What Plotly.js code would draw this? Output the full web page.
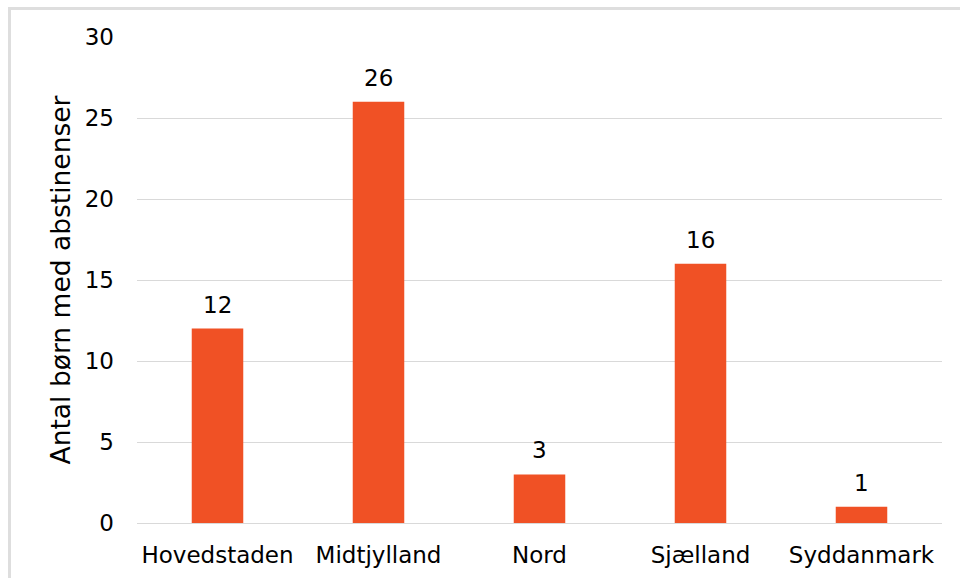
<!DOCTYPE html>
<html>
<head>
<meta charset="utf-8">
<script src="https://cdn.plot.ly/plotly-3.0.1.min.js"></script>
<style>
html,body{margin:0;padding:0;overflow:hidden;background:#fff;}
#frame{position:absolute;left:8px;top:7px;width:1000px;height:700px;border:3px solid #dedede;box-sizing:border-box;pointer-events:none;}
#chart{position:absolute;left:0;top:0;width:960px;height:578px;}
</style>
</head>
<body>
<div id="chart"></div>
<div id="frame"></div>
<script>
const categories = ["Hovedstaden", "Midtjylland", "Nord", "Sjælland", "Syddanmark"];
const values = [12, 26, 3, 16, 1];
const yTicks = [0, 5, 10, 15, 20, 25, 30];

const font = {family: "DejaVu Sans, Verdana, sans-serif", size: 23, color: "#000"};
const titleFont = {family: "DejaVu Sans, Verdana, sans-serif", size: 26.5, color: "#000"};

const trace = {
  type: "bar",
  x: categories,
  y: values,
  marker: {color: "#F05125"},
  hoverinfo: "none"
};

const annotations = categories.map((c, i) => ({
  x: c, y: values[i], xref: "x", yref: "y",
  text: String(values[i]), showarrow: false,
  yanchor: "bottom", yshift: 9, font: font
}));

const layout = {
  width: 960, height: 578,
  margin: {l: 137, r: 18, t: 37, b: 55},
  paper_bgcolor: "#fff", plot_bgcolor: "#fff",
  bargap: 0.68,
  showlegend: false,
  font: font,
  xaxis: {
    tickfont: font, showgrid: false, showline: false, zeroline: false,
    ticks: "", ticklabelstandoff: 16
  },
  yaxis: {
    range: [0, 30], tickvals: yTicks, ticktext: yTicks.map(String),
    tickfont: font, showgrid: true, gridcolor: "#d9d9d9", gridwidth: 1,
    zeroline: true, zerolinecolor: "#d9d9d9", zerolinewidth: 1,
    showline: false, ticks: "", ticklabelstandoff: 22,
    title: {text: "Antal børn med abstinenser", font: titleFont, standoff: 6}
  },
  annotations: annotations
};

Plotly.newPlot("chart", [trace], layout, {staticPlot: true, displayModeBar: false});
</script>
</body>
</html>
